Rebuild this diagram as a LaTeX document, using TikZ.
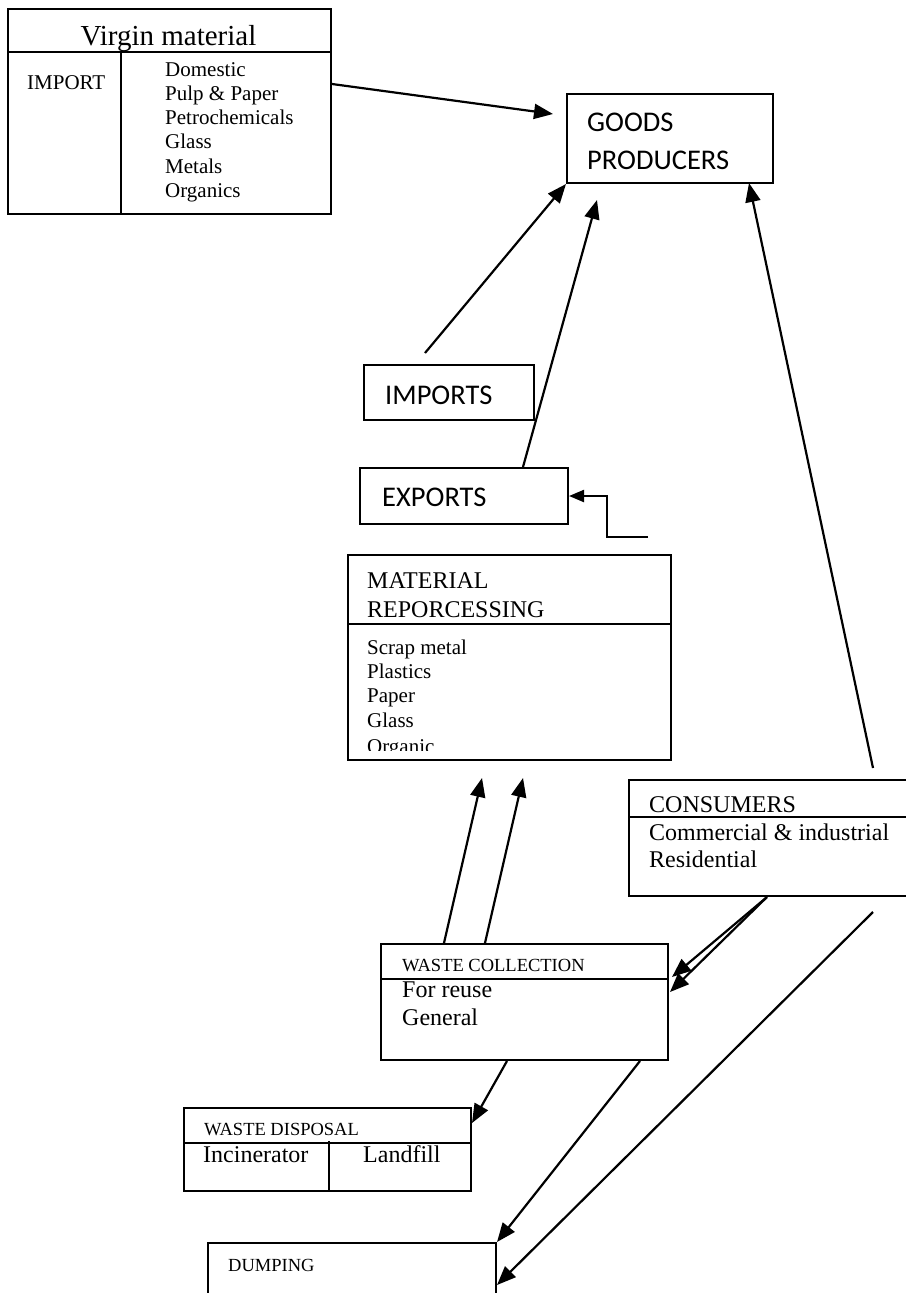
\documentclass[tikz,border=0pt]{standalone}
\usepackage{fontspec}
\setmainfont{Liberation Serif}
\newfontfamily\calfont{Carlito}
\usetikzlibrary{arrows.meta}
\newcommand{\fs}[1]{\fontsize{#1}{#1}\selectfont}
\begin{document}
\begin{tikzpicture}[x=1pt,y=-1pt,
  box/.style={draw,line width=2pt,rectangle,anchor=north west,inner sep=0pt},
  lbl/.style={anchor=base west,inner sep=0pt},
  arr/.style={line width=2.2pt,-{Triangle[length=19pt,width=15pt]}},
  sarr/.style={line width=2.2pt,-{Triangle[length=15pt,width=12pt]}}]
\useasboundingbox (0,0) rectangle (905,1293);
% ---------- boxes ----------
\node[box,minimum width=323pt,minimum height=205pt] (vm) at (7,8) {};
\draw[line width=2pt] (7,52) -- (330,52) (121,52) -- (121,213);
\node[anchor=base,inner sep=0pt] (vmt) at (168.5,45) {\fs{29}Virgin material};
\node[lbl] (vmi) at (27,89) {\fs{21}IMPORT};
\node[lbl] (vm1) at (165,76) {\fs{21}Domestic};
\node[lbl] (vm2) at (165,100) {\fs{21}Pulp \& Paper};
\node[lbl] (vm3) at (165,124.5) {\fs{21}Petrochemicals};
\node[lbl] (vm4) at (165,148.5) {\fs{21}Glass};
\node[lbl] (vm5) at (165,173) {\fs{21}Metals};
\node[lbl] (vm6) at (165,197) {\fs{21}Organics};

\node[box,minimum width=206pt,minimum height=89pt] (gp) at (566,93) {};
\node[lbl] (gpt1) at (587,131) {\calfont\fs{28.5}GOODS};
\node[lbl] (gpt2) at (587,169) {\calfont\fs{28.5}PRODUCERS};

\node[box,minimum width=170pt,minimum height=55pt] (imp) at (363,364) {};
\node[lbl] (impt) at (385,404) {\calfont\fs{28.5}IMPORTS};

\node[box,minimum width=208pt,minimum height=56pt] (exp) at (359,467) {};
\node[lbl] (expt) at (382,506) {\calfont\fs{28.5}EXPORTS};

\node[box,minimum width=323pt,minimum height=205pt] (mr) at (347,554) {};
\draw[line width=2pt] (347,624) -- (670,624);
\node[lbl] (mrt1) at (367,588) {\fs{24}MATERIAL};
\node[lbl] (mrt2) at (367,617) {\fs{24}REPORCESSING};
\node[lbl] (mr1) at (367,654) {\fs{21}Scrap metal};
\node[lbl] (mr2) at (367,678) {\fs{21}Plastics};
\node[lbl] (mr3) at (367,702) {\fs{21}Paper};
\node[lbl] (mr4) at (367,727) {\fs{21}Glass};
\begin{scope}
\clip (348,700) rectangle (669,750);
\node[lbl] (mr5) at (367,753) {\fs{21}Organic};
\end{scope}

\node[box,minimum width=282pt,minimum height=116pt] (cons) at (628,779) {};
\draw[line width=2pt] (628,817) -- (910,817);
\node[lbl] (const) at (649,812) {\fs{24}CONSUMERS};
\node[lbl] (cons1) at (649,840) {\fs{24}Commercial \& industrial};
\node[lbl] (cons2) at (649,867) {\fs{24}Residential};

\node[box,minimum width=287pt,minimum height=116pt] (wc) at (380,943) {};
\draw[line width=2pt] (380,979) -- (667,979);
\node[lbl] (wct) at (402,971) {\fs{18.5}WASTE COLLECTION};
\node[lbl] (wc1) at (402,997) {\fs{24}For reuse};
\node[lbl] (wc2) at (402,1025) {\fs{24}General};

\node[box,minimum width=287pt,minimum height=83pt] (wd) at (183,1107) {};
\draw[line width=2pt] (183,1143) -- (470,1143) (329,1141) -- (329,1190);
\node[lbl] (wdt) at (204,1135) {\fs{18.5}WASTE DISPOSAL};
\node[lbl] (wd1) at (203,1162) {\fs{24}Incinerator};
\node[lbl] (wd2) at (363,1162) {\fs{24}Landfill};

\node[box,minimum width=288pt,minimum height=70pt] (dump) at (207,1242) {};
\node[lbl] (dumpt) at (228,1271) {\fs{18.5}DUMPING};

% ---------- connector ends ----------
\coordinate (a1e) at (553,114);
\coordinate (a2s) at (425,353);
\coordinate (a3e) at (597,200);
\coordinate (a4s) at (873,768);
\coordinate (a4e) at (749,183);
\coordinate (a5s) at (648,537);
\coordinate (a5m) at (607,537);
\coordinate (a6e) at (482,778);
\coordinate (a7e) at (523,778);
\coordinate (a8e) at (672,977);
\coordinate (a9e) at (670,992);
\coordinate (a10s) at (873,912);
\coordinate (a10e) at (497,1285);
\coordinate (a11e) at (497,1242);
\coordinate (a12e) at (472,1123);

% ---------- connectors ----------
\draw[arr] (vm.east |- 0,84) -- (a1e);
\draw[arr] (a2s) -- (gp.south west);
\draw[arr] (exp.north -| 523,0) -- (a3e);
\draw[arr] (a4s) -- (a4e);
\draw[sarr] (a5s) -- (a5m) |- (exp.east);
\draw[arr] (wc.north -| 444,0) -- (a6e);
\draw[arr] (wc.north -| 485,0) -- (a7e);
\draw[arr] (cons.south -| 767,0) -- (a8e);
\draw[arr] (cons.south -| 767,0) -- (a9e);
\draw[arr] (a10s) -- (a10e);
\draw[arr] (wc.south -| 640,0) -- (a11e);
\draw[arr] (wc.south -| 507,0) -- (a12e);
\end{tikzpicture}
\end{document}
